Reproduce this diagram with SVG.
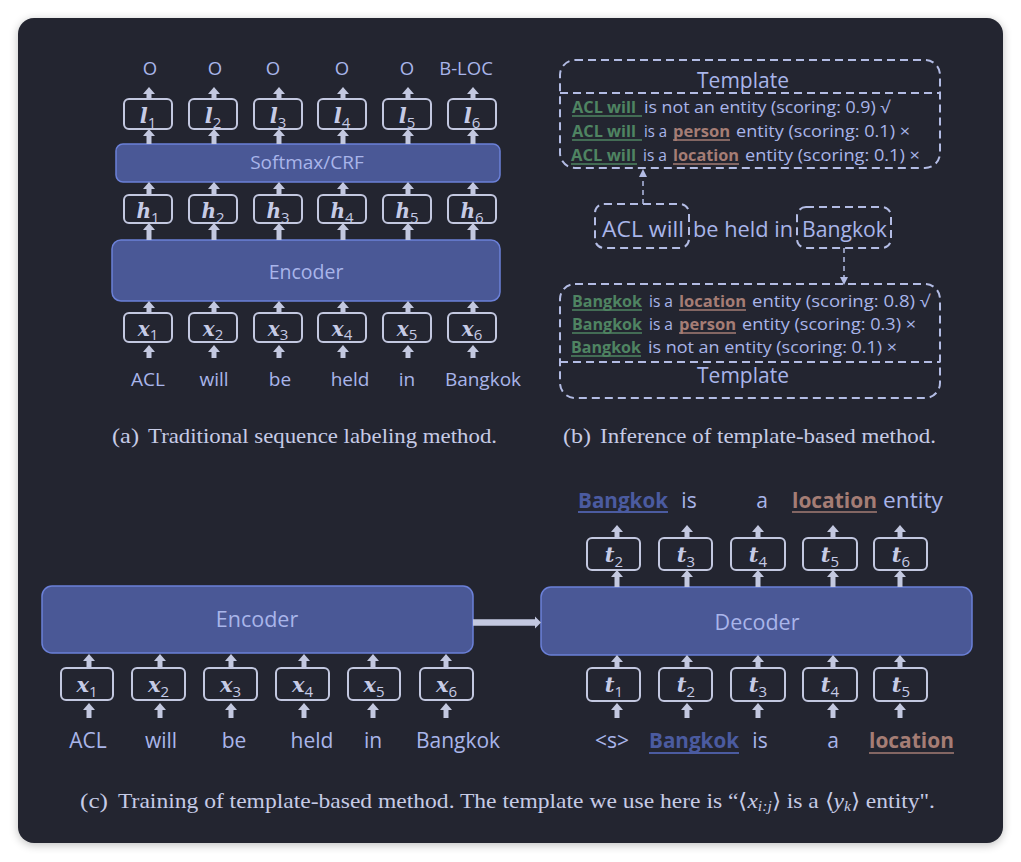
<svg xmlns="http://www.w3.org/2000/svg" width="1021" height="862" viewBox="0 0 1021 862">
<defs>
<style>
.card{fill:#232530}
.big{fill:#4a5896;stroke:#6b80d8;stroke-width:1.5}
.sm{fill:none;stroke:#c3c8e0;stroke-width:2}
.arr{stroke:#c3c8e0;stroke-width:5;fill:none}
.t{font-family:"Open Sans","Noto Sans",sans-serif;fill:#a9b5ea}
.mid{text-anchor:middle}
.m{font-family:"DejaVu Serif",serif;font-weight:bold;font-style:italic;fill:#c6cbe6;text-anchor:middle}
.sb{font-family:"Open Sans",sans-serif;font-weight:normal;font-style:normal;font-size:15px;fill:#c6cbe6}
.dash{fill:none;stroke:#b3bce4;stroke-width:2;stroke-dasharray:8 5}
.dl{fill:none;stroke:#b3bce4;stroke-width:1.5;stroke-dasharray:5 4}
.g{fill:#4f8462;font-weight:bold}
.br{fill:#a57d75;font-weight:bold}
.bl{fill:#4b5ba0;font-weight:bold}
.ug{stroke:#4f8462;stroke-width:1.5}
.ubr{stroke:#a57d75;stroke-width:1.5}
.ubl{stroke:#4b5ba0;stroke-width:2}
.cap{font-family:"Liberation Serif","Times New Roman",serif;fill:#c6cbe6;font-size:21px}
</style>
<marker id="hd" markerUnits="userSpaceOnUse" markerWidth="8" markerHeight="14" viewBox="0 -7 8 14" refX="0" refY="0" orient="auto">
<path d="M0,-6 L7,0 L0,6 Z" fill="#c3c8e0"/>
</marker>
<filter id="sh" x="-5%" y="-5%" width="110%" height="110%">
<feGaussianBlur stdDeviation="5"/>
</filter>
</defs>
<rect width="1021" height="862" fill="#ffffff"/>
<rect x="18" y="20" width="985" height="825" rx="16" fill="#000" opacity="0.25" filter="url(#sh)"/>
<rect class="card" x="18" y="18" width="985" height="825" rx="16"/>

<!-- Panel (a) -->
<g id="a-labels" class="t mid" font-size="18.5">
<text x="150" y="75">O</text><text x="215" y="75">O</text><text x="273" y="75">O</text>
<text x="342" y="75">O</text><text x="407" y="75">O</text><text x="466" y="75">B-LOC</text>
</g>
<g id="a-l">
<rect class="sm" x="124" y="99" width="48" height="30" rx="5"/>
<rect class="sm" x="189" y="99" width="48" height="30" rx="5"/>
<rect class="sm" x="254" y="99" width="48" height="30" rx="5"/>
<rect class="sm" x="318" y="99" width="48" height="30" rx="5"/>
<rect class="sm" x="383" y="99" width="48" height="30" rx="5"/>
<rect class="sm" x="448" y="99" width="48" height="30" rx="5"/>
<g class="m" font-size="21">
<text x="148" y="123">l<tspan class="sb" dy="5">1</tspan></text>
<text x="213" y="123">l<tspan class="sb" dy="5">2</tspan></text>
<text x="278" y="123">l<tspan class="sb" dy="5">3</tspan></text>
<text x="342" y="123">l<tspan class="sb" dy="5">4</tspan></text>
<text x="407" y="123">l<tspan class="sb" dy="5">5</tspan></text>
<text x="472" y="123">l<tspan class="sb" dy="5">6</tspan></text>
</g>
</g>
<g id="a-softmax">
<rect class="big" x="116" y="144" width="384" height="38" rx="7"/>
<text class="t mid" x="307" y="169" font-size="19">Softmax/CRF</text>
</g>
<g id="a-h">
<rect class="sm" x="124" y="195" width="48" height="28" rx="5"/>
<rect class="sm" x="189" y="195" width="48" height="28" rx="5"/>
<rect class="sm" x="254" y="195" width="48" height="28" rx="5"/>
<rect class="sm" x="318" y="195" width="48" height="28" rx="5"/>
<rect class="sm" x="383" y="195" width="48" height="28" rx="5"/>
<rect class="sm" x="448" y="195" width="48" height="28" rx="5"/>
<g class="m" font-size="20">
<text x="148" y="218">h<tspan class="sb" dy="5">1</tspan></text>
<text x="213" y="218">h<tspan class="sb" dy="5">2</tspan></text>
<text x="278" y="218">h<tspan class="sb" dy="5">3</tspan></text>
<text x="342" y="218">h<tspan class="sb" dy="5">4</tspan></text>
<text x="407" y="218">h<tspan class="sb" dy="5">5</tspan></text>
<text x="472" y="218">h<tspan class="sb" dy="5">6</tspan></text>
</g>
</g>
<g id="a-encoder">
<rect class="big" x="112" y="240" width="388" height="61" rx="9"/>
<text class="t mid" x="306" y="279" font-size="19.5">Encoder</text>
</g>
<g id="a-x">
<rect class="sm" x="124" y="313" width="48" height="29" rx="5"/>
<rect class="sm" x="189" y="313" width="48" height="29" rx="5"/>
<rect class="sm" x="254" y="313" width="48" height="29" rx="5"/>
<rect class="sm" x="318" y="313" width="48" height="29" rx="5"/>
<rect class="sm" x="383" y="313" width="48" height="29" rx="5"/>
<rect class="sm" x="448" y="313" width="48" height="29" rx="5"/>
<g class="m" font-size="20">
<text x="148" y="336">x<tspan class="sb" dy="4">1</tspan></text>
<text x="213" y="336">x<tspan class="sb" dy="4">2</tspan></text>
<text x="278" y="336">x<tspan class="sb" dy="4">3</tspan></text>
<text x="342" y="336">x<tspan class="sb" dy="4">4</tspan></text>
<text x="407" y="336">x<tspan class="sb" dy="4">5</tspan></text>
<text x="472" y="336">x<tspan class="sb" dy="4">6</tspan></text>
</g>
</g>
<g id="a-words" class="t mid" font-size="19">
<text x="148" y="386">ACL</text><text x="214" y="386">will</text><text x="280" y="386">be</text>
<text x="350" y="386">held</text><text x="407" y="386">in</text><text x="483" y="386">Bangkok</text>
</g>

<!-- Panel (b) -->
<g id="b-template-top">
<rect class="dash" x="560" y="60" width="380" height="108" rx="15"/>
<line class="dash" x1="560" y1="93" x2="940" y2="93"/>
<text class="t mid" x="743" y="88" font-size="21">Template</text>
<g class="t" font-size="16.5">
<text x="572" y="113" class="g" textLength="64" lengthAdjust="spacingAndGlyphs">ACL will</text>
<text x="644" y="113" textLength="246" lengthAdjust="spacingAndGlyphs">is not an entity (scoring: 0.9) √</text>
<text x="572" y="137" class="g" textLength="64" lengthAdjust="spacingAndGlyphs">ACL will</text>
<text x="644" y="137" textLength="23" lengthAdjust="spacingAndGlyphs">is a</text>
<text x="673" y="137" class="br" textLength="57" lengthAdjust="spacingAndGlyphs">person</text>
<text x="736" y="137" textLength="174" lengthAdjust="spacingAndGlyphs">entity (scoring: 0.1) ×</text>
<text x="571" y="161" class="g" textLength="65" lengthAdjust="spacingAndGlyphs">ACL will</text>
<text x="643" y="161" textLength="24" lengthAdjust="spacingAndGlyphs">is a</text>
<text x="673" y="161" class="br" textLength="66" lengthAdjust="spacingAndGlyphs">location</text>
<text x="745" y="161" textLength="175" lengthAdjust="spacingAndGlyphs">entity (scoring: 0.1) ×</text>
</g>
<line class="ug" x1="572" y1="116" x2="642" y2="116"/>
<line class="ug" x1="572" y1="140" x2="642" y2="140"/>
<line class="ug" x1="571" y1="164" x2="637" y2="164"/>
<line class="ubr" x1="673" y1="140" x2="730" y2="140"/>
<line class="ubr" x1="673" y1="164" x2="739" y2="164"/>
</g>
<g id="b-sentence">
<rect class="dash" x="595" y="204" width="94" height="44" rx="9"/>
<rect class="dash" x="797" y="207" width="94" height="41" rx="9"/>
<text class="t" x="602" y="237" font-size="22" textLength="82" lengthAdjust="spacingAndGlyphs">ACL will</text>
<text class="t" x="693" y="237" font-size="22" textLength="100" lengthAdjust="spacingAndGlyphs">be held in</text>
<text class="t" x="802" y="237" font-size="22" textLength="85" lengthAdjust="spacingAndGlyphs">Bangkok</text>
</g>
<g id="b-template-bottom">
<rect class="dash" x="560" y="284" width="380" height="114" rx="15"/>
<line class="dash" x1="560" y1="362" x2="940" y2="362"/>
<text class="t mid" x="743" y="383" font-size="21">Template</text>
<g class="t" font-size="16.5">
<text x="572" y="307" class="g" textLength="70" lengthAdjust="spacingAndGlyphs">Bangkok</text>
<text x="649" y="307" textLength="24" lengthAdjust="spacingAndGlyphs">is a</text>
<text x="679" y="307" class="br" textLength="67" lengthAdjust="spacingAndGlyphs">location</text>
<text x="752" y="307" textLength="178" lengthAdjust="spacingAndGlyphs">entity (scoring: 0.8) √</text>
<text x="572" y="330" class="g" textLength="70" lengthAdjust="spacingAndGlyphs">Bangkok</text>
<text x="649" y="330" textLength="24" lengthAdjust="spacingAndGlyphs">is a</text>
<text x="679" y="330" class="br" textLength="57" lengthAdjust="spacingAndGlyphs">person</text>
<text x="742" y="330" textLength="174" lengthAdjust="spacingAndGlyphs">entity (scoring: 0.3) ×</text>
<text x="571" y="353" class="g" textLength="70" lengthAdjust="spacingAndGlyphs">Bangkok</text>
<text x="648" y="353" textLength="249" lengthAdjust="spacingAndGlyphs">is not an entity (scoring: 0.1) ×</text>
</g>
<line class="ug" x1="572" y1="310" x2="642" y2="310"/>
<line class="ug" x1="572" y1="333" x2="642" y2="333"/>
<line class="ug" x1="571" y1="356" x2="641" y2="356"/>
<line class="ubr" x1="679" y1="310" x2="746" y2="310"/>
<line class="ubr" x1="679" y1="333" x2="736" y2="333"/>
</g>

<!-- Captions (a) (b) -->
<g id="cap-a" class="cap">
<text x="112" y="443" textLength="27" lengthAdjust="spacingAndGlyphs">(a)</text>
<text x="148" y="443" textLength="349" lengthAdjust="spacingAndGlyphs">Traditional sequence labeling method.</text>
</g>
<g id="cap-b" class="cap">
<text x="563" y="443" textLength="28" lengthAdjust="spacingAndGlyphs">(b)</text>
<text x="600" y="443" textLength="336" lengthAdjust="spacingAndGlyphs">Inference of template-based method.</text>
</g>

<!-- Panel (c) -->
<g id="c-top-words" font-size="21" class="t">
<text x="578" y="508" class="bl" textLength="90" lengthAdjust="spacingAndGlyphs">Bangkok</text>
<text x="689" y="508" class="mid">is</text>
<text x="762" y="508" class="mid">a</text>
<text x="792" y="508" class="br" textLength="85" lengthAdjust="spacingAndGlyphs">location</text>
<text x="883" y="508" textLength="60" lengthAdjust="spacingAndGlyphs">entity</text>
<line class="ubl" x1="578" y1="512" x2="668" y2="512"/>
<line class="ubr" x1="792" y1="512" x2="877" y2="512" stroke-width="2"/>
</g>
<g id="c-t-top">
<rect class="sm" x="587" y="538" width="53" height="32" rx="5"/>
<rect class="sm" x="659" y="538" width="53" height="32" rx="5"/>
<rect class="sm" x="731" y="538" width="54" height="32" rx="5"/>
<rect class="sm" x="803" y="538" width="54" height="32" rx="5"/>
<rect class="sm" x="874" y="538" width="53" height="32" rx="5"/>
<g class="m" font-size="21">
<text x="614" y="562">t<tspan class="sb" dy="5">2</tspan></text>
<text x="686" y="562">t<tspan class="sb" dy="5">3</tspan></text>
<text x="758" y="562">t<tspan class="sb" dy="5">4</tspan></text>
<text x="830" y="562">t<tspan class="sb" dy="5">5</tspan></text>
<text x="901" y="562">t<tspan class="sb" dy="5">6</tspan></text>
</g>
</g>
<g id="c-encoder">
<rect class="big" x="42" y="586" width="431" height="67" rx="10"/>
<text class="t mid" x="257" y="627" font-size="21.5">Encoder</text>
</g>
<g id="c-decoder">
<rect class="big" x="541" y="587" width="431" height="68" rx="10"/>
<text class="t mid" x="757" y="630" font-size="21.5">Decoder</text>
</g>
<g id="c-x">
<rect class="sm" x="61" y="668" width="52" height="32" rx="5"/>
<rect class="sm" x="132" y="668" width="53" height="32" rx="5"/>
<rect class="sm" x="204" y="668" width="53" height="32" rx="5"/>
<rect class="sm" x="276" y="668" width="53" height="32" rx="5"/>
<rect class="sm" x="348" y="668" width="52" height="32" rx="5"/>
<rect class="sm" x="420" y="668" width="53" height="32" rx="5"/>
<g class="m" font-size="21">
<text x="87" y="692">x<tspan class="sb" dy="5">1</tspan></text>
<text x="158.5" y="692">x<tspan class="sb" dy="5">2</tspan></text>
<text x="230.5" y="692">x<tspan class="sb" dy="5">3</tspan></text>
<text x="302.5" y="692">x<tspan class="sb" dy="5">4</tspan></text>
<text x="374" y="692">x<tspan class="sb" dy="5">5</tspan></text>
<text x="446.5" y="692">x<tspan class="sb" dy="5">6</tspan></text>
</g>
</g>
<g id="c-t-bottom">
<rect class="sm" x="587" y="668" width="53" height="33" rx="5"/>
<rect class="sm" x="659" y="668" width="53" height="33" rx="5"/>
<rect class="sm" x="731" y="668" width="54" height="33" rx="5"/>
<rect class="sm" x="803" y="668" width="54" height="33" rx="5"/>
<rect class="sm" x="874" y="668" width="53" height="33" rx="5"/>
<g class="m" font-size="21">
<text x="614" y="692">t<tspan class="sb" dy="5">1</tspan></text>
<text x="686" y="692">t<tspan class="sb" dy="5">2</tspan></text>
<text x="758" y="692">t<tspan class="sb" dy="5">3</tspan></text>
<text x="830" y="692">t<tspan class="sb" dy="5">4</tspan></text>
<text x="901" y="692">t<tspan class="sb" dy="5">5</tspan></text>
</g>
</g>
<g id="c-enc-words" class="t mid" font-size="21">
<text x="88" y="748">ACL</text><text x="161" y="748">will</text><text x="234" y="748">be</text>
<text x="312" y="748">held</text><text x="373" y="748">in</text><text x="458" y="748">Bangkok</text>
</g>
<g id="c-dec-words" class="t" font-size="21">
<text x="612" y="748" class="mid">&lt;s&gt;</text>
<text x="649" y="748" class="bl" textLength="90" lengthAdjust="spacingAndGlyphs">Bangkok</text>
<text x="760" y="748" class="mid">is</text>
<text x="833" y="748" class="mid">a</text>
<text x="869" y="748" class="br" textLength="85" lengthAdjust="spacingAndGlyphs">location</text>
<line class="ubl" x1="649" y1="753" x2="739" y2="753"/>
<line class="ubr" x1="869" y1="753" x2="954" y2="753" stroke-width="2"/>
</g>
<g id="cap-c" class="cap">
<text x="80" y="808" textLength="28" lengthAdjust="spacingAndGlyphs">(c)</text>
<text x="118" y="808" textLength="817" lengthAdjust="spacingAndGlyphs">Training of template-based method. The template we use here is “⟨<tspan font-style="italic">x</tspan><tspan font-style="italic" font-size="14" dy="3">i:j</tspan><tspan dy="-3">⟩ is a ⟨</tspan><tspan font-style="italic">y</tspan><tspan font-style="italic" font-size="14" dy="3">k</tspan><tspan dy="-3">⟩ entity".</tspan></text>
</g>

<!-- Connectors -->
<g id="connectors">
<g class="arr" marker-end="url(#hd)">
<!-- panel a: word -> x -->
<line x1="149" y1="358" x2="149" y2="352"/><line x1="214" y1="358" x2="214" y2="352"/><line x1="279" y1="358" x2="279" y2="352"/>
<line x1="343" y1="358" x2="343" y2="352"/><line x1="408" y1="358" x2="408" y2="352"/><line x1="473" y1="358" x2="473" y2="352"/>
<!-- x -> encoder -->
<line x1="149" y1="313" x2="149" y2="308"/><line x1="214" y1="313" x2="214" y2="308"/><line x1="279" y1="313" x2="279" y2="308"/>
<line x1="343" y1="313" x2="343" y2="308"/><line x1="408" y1="313" x2="408" y2="308"/><line x1="473" y1="313" x2="473" y2="308"/>
<!-- encoder -> h -->
<line x1="149" y1="240" x2="149" y2="230"/><line x1="214" y1="240" x2="214" y2="230"/><line x1="279" y1="240" x2="279" y2="230"/>
<line x1="343" y1="240" x2="343" y2="230"/><line x1="408" y1="240" x2="408" y2="230"/><line x1="473" y1="240" x2="473" y2="230"/>
<!-- h -> softmax -->
<line x1="149" y1="195" x2="149" y2="189"/><line x1="214" y1="195" x2="214" y2="189"/><line x1="279" y1="195" x2="279" y2="189"/>
<line x1="343" y1="195" x2="343" y2="189"/><line x1="408" y1="195" x2="408" y2="189"/><line x1="473" y1="195" x2="473" y2="189"/>
<!-- softmax -> l -->
<line x1="149" y1="144" x2="149" y2="136"/><line x1="214" y1="144" x2="214" y2="136"/><line x1="279" y1="144" x2="279" y2="136"/>
<line x1="343" y1="144" x2="343" y2="136"/><line x1="408" y1="144" x2="408" y2="136"/><line x1="473" y1="144" x2="473" y2="136"/>
<!-- l -> label -->
<line x1="149" y1="99" x2="149" y2="94"/><line x1="214" y1="99" x2="214" y2="94"/><line x1="279" y1="99" x2="279" y2="94"/>
<line x1="343" y1="99" x2="343" y2="94"/><line x1="408" y1="99" x2="408" y2="94"/><line x1="473" y1="99" x2="473" y2="94"/>
<!-- panel c encoder: word -> x -->
<line x1="89" y1="718" x2="89" y2="710"/><line x1="160" y1="718" x2="160" y2="710"/><line x1="231" y1="718" x2="231" y2="710"/>
<line x1="304" y1="718" x2="304" y2="710"/><line x1="373" y1="718" x2="373" y2="710"/><line x1="446" y1="718" x2="446" y2="710"/>
<!-- x -> encoder -->
<line x1="89" y1="668" x2="89" y2="661"/><line x1="160" y1="668" x2="160" y2="661"/><line x1="231" y1="668" x2="231" y2="661"/>
<line x1="304" y1="668" x2="304" y2="661"/><line x1="373" y1="668" x2="373" y2="661"/><line x1="446" y1="668" x2="446" y2="661"/>
<!-- decoder: word -> t -->
<line x1="617" y1="718" x2="617" y2="710"/><line x1="687" y1="718" x2="687" y2="710"/><line x1="758" y1="718" x2="758" y2="710"/>
<line x1="833" y1="718" x2="833" y2="710"/><line x1="900" y1="718" x2="900" y2="710"/>
<!-- t -> decoder -->
<line x1="617" y1="668" x2="617" y2="662"/><line x1="687" y1="668" x2="687" y2="662"/><line x1="758" y1="668" x2="758" y2="662"/>
<line x1="833" y1="668" x2="833" y2="662"/><line x1="900" y1="668" x2="900" y2="662"/>
<!-- decoder -> t -->
<line x1="617" y1="587" x2="617" y2="577"/><line x1="687" y1="587" x2="687" y2="577"/><line x1="758" y1="587" x2="758" y2="577"/>
<line x1="833" y1="587" x2="833" y2="577"/><line x1="900" y1="587" x2="900" y2="577"/>
<!-- t -> word -->
<line x1="617" y1="538" x2="617" y2="532"/><line x1="687" y1="538" x2="687" y2="532"/><line x1="758" y1="538" x2="758" y2="532"/>
<line x1="833" y1="538" x2="833" y2="532"/><line x1="900" y1="538" x2="900" y2="532"/>
</g>
<!-- encoder -> decoder -->
<line x1="473" y1="622.5" x2="536" y2="622.5" stroke="#c3c8e0" stroke-width="6.5"/>
<polygon points="535,616.5 541,622.5 535,628.5" fill="#c3c8e0"/>
<!-- panel b dashed arrows -->
<line class="dl" x1="643" y1="204" x2="643" y2="177"/>
<polygon points="639,177 647,177 643,169" fill="#b3bce4"/>
<line class="dl" x1="844" y1="248" x2="844" y2="277"/>
<polygon points="840,277 848,277 844,285" fill="#b3bce4"/>
</g>
</svg>
